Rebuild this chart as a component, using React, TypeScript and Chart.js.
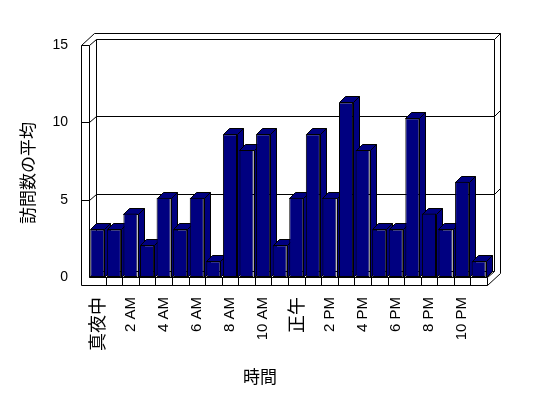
import React, { useEffect, useRef } from 'react';
import { Chart, registerables } from 'chart.js';

Chart.register(...registerables);

const hours = ['真夜中', '1 AM', '2 AM', '3 AM', '4 AM', '5 AM', '6 AM', '7 AM', '8 AM', '9 AM', '10 AM', '11 AM',
  '正午', '1 PM', '2 PM', '3 PM', '4 PM', '5 PM', '6 PM', '7 PM', '8 PM', '9 PM', '10 PM', '11 PM'];
const visits = [3, 3, 4, 2, 5, 3, 5, 1, 9, 8, 9, 2, 5, 9, 5, 11, 8, 3, 3, 10, 4, 3, 6, 1];
const yMin = 0;
const yMax = 15;
const yStep = 5;
const xTitle = '時間';
const yTitle = '訪問数の平均';

const NAVY = '#000080';
const FONT = '"Liberation Sans", "Noto Sans CJK JP", sans-serif';
const CJK = '"Noto Sans CJK JP", "Liberation Sans", sans-serif';

// 3D geometry (pixels)
const G = { dx: 7, dy: 6, wx: 6, wy: 6, t: 8, bdx: 6, bdy: 6, plotH: 232 };
// bars are drawn against the back-wall height (perspective), so their scale tops out a bit lower
const barMax = yMax * G.plotH / (G.plotH + G.dy);

const p = (v: number) => Math.round(v) + 0.5;
const isCJK = (s: string) => /[\u3040-\u9fff]/.test(s);

const box3d = {
  id: 'box3d',
  beforeDatasetsDraw(chart: any) {
    const { ctx, chartArea } = chart;
    const ys = chart.scales.y;
    const xs = chart.scales.x;
    const L = chartArea.left, R = chartArea.right;
    const T = ys.getPixelForValue(yMax), B = ys.getPixelForValue(yMin);
    const { dx, dy, wx, wy, t } = G;
    ctx.save();
    ctx.lineWidth = 1;
    ctx.strokeStyle = '#000';
    ctx.fillStyle = '#fff';
    const poly = (pts: number[][], close = false, fill = false) => {
      ctx.beginPath();
      ctx.moveTo(p(pts[0][0]), p(pts[0][1]));
      for (let i = 1; i < pts.length; i++) ctx.lineTo(p(pts[i][0]), p(pts[i][1]));
      if (close) ctx.closePath();
      if (fill) ctx.fill();
      ctx.stroke();
    };
    // outer contour
    poly([
      [L - t, B + t], [L - t, T], [L - t + dx + wx, T - dy - wy], [R + dx + wx, T - dy - wy],
      [R + dx + wx, B + t - dy - wy], [R, B + t],
    ], true, true);
    // back wall face
    poly([[L + dx, T - dy], [R + dx, T - dy], [R + dx, B - dy], [L + dx, B - dy]], true);
    poly([[R + dx, T - dy], [R + dx + wx, T - dy - wy]]);
    // left wall front face
    poly([[L - t, T], [L, T], [L, B]]);
    poly([[L, T], [L + dx, T - dy]]);
    poly([[L, B], [L + dx, B - dy]]);
    // floor front face
    poly([[L, B], [R, B], [R, B + t]]);
    poly([[R, B], [R + dx, B - dy]]);
    // floor ticks at category boundaries
    const n = hours.length;
    for (let i = 1; i < n; i++) {
      const xb = (xs.getPixelForValue(i - 1) + xs.getPixelForValue(i)) / 2;
      poly([[xb, B], [xb, B + t]]);
    }
    // gridlines
    for (let v = yMin + yStep; v < yMax; v += yStep) {
      const yf = ys.getPixelForValue(v);
      poly([[L - t, yf], [L, yf], [L + dx, yf - dy], [R + dx, yf - dy], [R + dx + wx, yf - dy - wy]]);
    }
    // bar tops and sides
    const meta = chart.getDatasetMeta(0);
    ctx.fillStyle = NAVY;
    meta.data.forEach((bar: any) => {
      const { x, y, width, base } = bar.getProps(['x', 'y', 'width', 'base'], true);
      const x0 = x - width / 2, x1 = x + width / 2;
      poly([[x0, y], [x1, y], [x1 + G.bdx, y - G.bdy], [x0 + G.bdx, y - G.bdy]], true, true);
      poly([[x1, y], [x1 + G.bdx, y - G.bdy], [x1 + G.bdx, base - G.bdy], [x1, base]], true, true);
    });
    ctx.restore();
  },
  afterDraw(chart: any) {
    const { ctx } = chart;
    ctx.save();
    ctx.fillStyle = '#000';
    ctx.font = '17px ' + CJK;
    ctx.textAlign = 'center';
    ctx.textBaseline = 'middle';
    ctx.fillText(xTitle, 260, 377);
    ctx.translate(28, 173);
    ctx.rotate(-Math.PI / 2);
    ctx.fillText(yTitle, 0, 0);
    ctx.restore();
  },
};

export default function App() {
  const ref = useRef<HTMLCanvasElement>(null);
  useEffect(() => {
    const canvas = ref.current!;
    const chart = new Chart(canvas, {
      type: 'bar',
      data: {
        labels: hours,
        datasets: [{
          data: visits,
          yAxisID: 'yBar',
          backgroundColor: NAVY,
          borderColor: '#000',
          borderWidth: 1,
          borderSkipped: false,
          barPercentage: 0.85,
          categoryPercentage: 1,
        }],
      },
      options: {
        responsive: false,
        animation: false,
        devicePixelRatio: 1,
        layout: { padding: { left: 0, top: 45, right: 61, bottom: 0 } },
        plugins: { legend: { display: false }, tooltip: { enabled: false }, title: { display: false } },
        scales: {
          x: {
            grid: { display: false, drawTicks: false },
            border: { display: false },
            ticks: {
              autoSkip: false,
              minRotation: 90,
              maxRotation: 90,
              padding: 20,
              color: '#000',
              font: (c: any) => {
                const s = hours[c.index] || '';
                return isCJK(s) ? { size: 18, family: CJK } : { size: 15, family: FONT };
              },
              callback: (_v: any, i: number) => (i % 2 === 0 ? hours[i] : ''),
            },
            afterFit: (s: any) => { s.height = 121; },
          },
          y: {
            min: yMin,
            max: yMax,
            grid: { display: false, drawTicks: false },
            border: { display: false },
            ticks: { stepSize: yStep, padding: 21, color: '#000', font: { size: 14, family: FONT } },
            afterFit: (s: any) => { s.width = 89; },
          },
          yBar: {
            display: false,
            min: yMin,
            max: barMax,
          },
        },
      },
      plugins: [box3d],
    });
    return () => chart.destroy();
  }, []);
  return (
    <div style={{ position: 'fixed', left: 0, top: 0, width: 548, height: 398, background: '#fff' }}>
      <canvas ref={ref} width={548} height={398} style={{ display: 'block', width: 548, height: 398 }} />
    </div>
  );
}
